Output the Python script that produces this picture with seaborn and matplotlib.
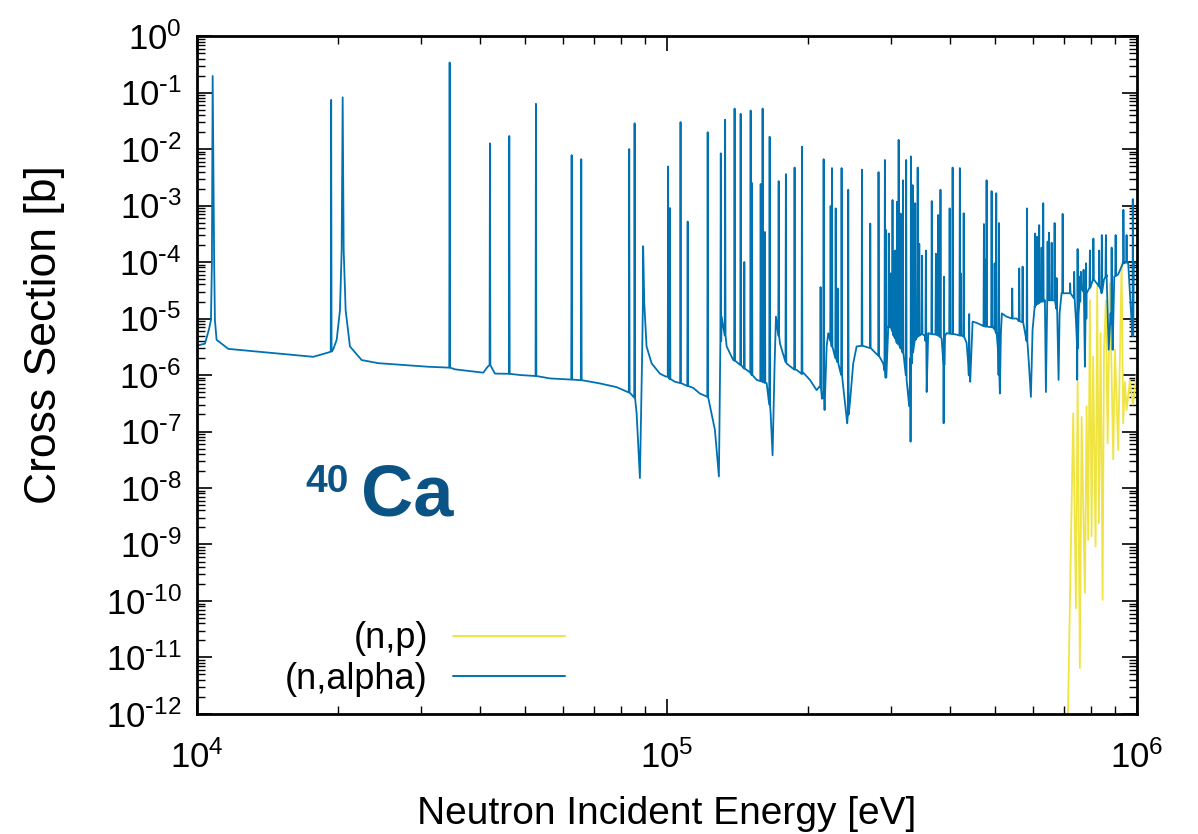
import matplotlib
matplotlib.use("Agg")
import matplotlib.pyplot as plt
import matplotlib.ticker as mticker
import numpy as np
import pandas as pd
import seaborn as sns

# (n,alpha) smooth part: background, broad resonances with wings, interference dips
alpha_bg_e = [
    1.00e4, 1.04e4, 1.06e4, 1.071e4, 1.076e4, 1.080e4, 1.088e4, 1.092e4, 1.101e4, 1.166e4,
    1.768e4, 1.903e4, 1.948e4, 1.983e4, 2.015e4, 2.032e4, 2.042e4, 2.052e4, 2.072e4, 2.116e4,
    2.241e4, 2.43e4, 3.105e4, 3.371e4, 3.54e4, 4.066e4, 4.155e4, 4.305e4, 4.867e4, 5.637e4,
    7.2e4, 7.816e4, 8.21e4, 8.45e4, 8.62e4, 8.76e4, 8.85e4, 8.89e4, 8.90e4, 8.95e4,
    9.05e4, 9.28e4, 9.66e4, 9.94e4, 1.04e5, 1.138e5, 1.175e5, 1.205e5, 1.235e5, 1.265e5,
    1.29e5, 1.307e5, 1.34e5, 1.384e5, 1.419e5, 1.478e5, 1.552e5, 1.63e5, 1.646e5, 1.662e5,
    1.678e5, 1.695e5, 1.706e5, 1.74e5, 1.797e5, 1.888e5, 1.95e5, 2.015e5, 2.082e5, 2.11e5,
    2.137e5, 2.165e5, 2.187e5, 2.204e5, 2.241e5, 2.278e5, 2.333e5, 2.372e5, 2.419e5, 2.451e5,
    2.491e5, 2.533e5, 2.596e5, 2.704e5, 2.816e5, 2.886e5, 2.92e5, 2.958e5, 2.983e5, 3.082e5,
    3.158e5, 3.236e5, 3.277e5, 3.299e5, 3.32e5, 3.371e5, 3.484e5, 3.54e5, 3.57e5, 3.597e5,
    3.748e5, 3.841e5, 3.879e5, 3.904e5, 3.936e5, 4.133e5, 4.269e5, 4.341e5, 4.376e5, 4.419e5,
    4.449e5, 4.471e5, 4.559e5, 4.71e5, 4.947e5, 5.03e5, 5.07e5, 5.11e5, 5.136e5, 5.161e5,
    5.281e5, 5.546e5, 5.73e5, 5.826e5, 5.891e5, 5.949e5, 5.998e5, 6.067e5, 6.217e5, 6.372e5,
    6.403e5, 6.443e5, 6.691e5, 6.768e5, 6.813e5, 6.847e5, 6.914e5, 7.2e5, 7.345e5, 7.417e5,
    7.464e5, 7.515e5, 7.59e5, 7.713e5, 7.751e5, 7.815e5, 8.07e5, 8.27e5, 8.41e5, 8.51e5,
    8.62e5, 8.71e5, 8.79e5, 8.88e5, 8.95e5, 9.12e5, 9.35e5, 9.58e5, 9.79e5, 9.85e5,
    1.015e6,
]
alpha_bg_xs = [
    3.3e-6, 3.6e-6, 6.3e-6, 9.4e-6, 9.6e-5, 1.96e-1, 9.6e-5, 9.4e-6, 4.2e-6, 2.9e-6,
    2.1e-6, 2.5e-6, 2.8e-6, 4.2e-6, 1.4e-5, 1.63e-4, 8.2e-2, 1.63e-4, 1.4e-5, 3.2e-6,
    1.84e-6, 1.62e-6, 1.4e-6, 1.36e-6, 1.26e-6, 1.1e-6, 1.4e-6, 1.06e-6, 1.0e-6, 8.7e-7,
    7.1e-7, 6.1e-7, 5.1e-7, 4.3e-7, 2.1e-7, 1.5e-8, 1.6e-6, 1.85e-5, 1.9e-4, 1.85e-5,
    3.2e-6, 1.6e-6, 1.06e-6, 9.4e-7, 7.6e-7, 5.9e-7, 4.7e-7, 4.3e-7, 2.8e-7, 1.07e-7,
    1.6e-8, 1.08e-5, 3.2e-6, 1.84e-6, 1.6e-6, 1.23e-6, 8.2e-7, 7.2e-7, 3.6e-7, 2.1e-7,
    3.8e-8, 1.6e-6, 1.08e-5, 3.6e-6, 1.6e-6, 1.23e-6, 1.1e-6, 8.2e-7, 5.4e-7, 6.2e-7,
    3.8e-7, 2.4e-7, 3.2e-6, 5.5e-6, 3.2e-6, 2.1e-6, 1.23e-6, 6.2e-7, 1.4e-7, 3.2e-7,
    1.6e-6, 3.2e-6, 3.3e-6, 3.0e-6, 2.2e-6, 1.6e-6, 9.3e-7, 7.2e-6, 7.0e-6, 3.7e-6,
    2.8e-6, 8.2e-7, 2.8e-7, 6.6e-8, 1.6e-6, 4.2e-6, 5.5e-6, 4.9e-6, 5.0e-7, 5.5e-6,
    5.2e-6, 4.4e-6, 1.4e-7, 4.9e-6, 5.5e-6, 5.2e-6, 4.9e-6, 3.7e-6, 1.6e-6, 7.6e-7,
    3.2e-6, 8.8e-6, 8.4e-6, 7.4e-6, 6.9e-6, 5.5e-6, 2.4e-6, 4.7e-7, 5.5e-6, 1.23e-5,
    1.08e-5, 1.0e-5, 8.4e-6, 4.9e-6, 1.6e-6, 4.1e-7, 6.3e-6, 1.6e-5, 1.96e-5, 2.1e-5,
    5.0e-7, 2.1e-5, 2.1e-5, 1.23e-5, 8.2e-7, 1.23e-5, 2.8e-5, 2.8e-5, 2.4e-5, 9.4e-6,
    8.2e-7, 1.23e-5, 3.6e-5, 2.8e-5, 1.4e-6, 2.8e-5, 4.9e-5, 3.9e-5, 2.8e-5, 4.9e-5,
    5.9e-5, 2.8e-6, 1.23e-5, 2.8e-6, 5.5e-5, 6.0e-5, 9.5e-5, 1.0e-4, 4.9e-6, 9.5e-5,
    1.0e-4,
]

# (n,alpha) narrow resonances: energy, peak and the level the spike rises from
alpha_res_e = [
    1.93e4, 3.449e4, 4.202e4, 4.619e4, 5.264e4, 6.27e4, 6.572e4, 8.313e4, 8.535e4, 1.006e5,
    1.015e5, 1.069e5, 1.107e5, 1.221e5, 1.302e5, 1.33e5, 1.393e5, 1.435e5, 1.461e5, 1.507e5,
    1.517e5, 1.583e5, 1.598e5, 1.616e5, 1.654e5, 1.729e5, 1.791e5, 1.869e5, 1.938e5, 2.123e5,
    2.155e5, 2.23e5, 2.245e5, 2.286e5, 2.308e5, 2.353e5, 2.431e5, 2.6e5, 2.708e5, 2.82e5,
    2.909e5, 2.924e5, 2.965e5, 2.99e5, 3.02e5, 3.04e5, 3.06e5, 3.09e5, 3.112e5, 3.142e5,
    3.178e5, 3.229e5, 3.305e5, 3.333e5, 3.375e5, 3.416e5, 3.443e5, 3.49e5, 3.556e5, 3.66e5,
    3.735e5, 3.777e5, 3.82e5, 3.885e5, 3.995e5, 4.054e5, 4.2e5, 4.22e5, 4.28e5, 4.397e5,
    4.726e5, 4.764e5, 4.788e5, 4.907e5, 4.98e5, 5.02e5, 5.087e5, 5.429e5, 5.618e5, 5.712e5,
    5.835e5, 6.075e5, 6.137e5, 6.196e5, 6.27e5, 6.32e5, 6.457e5, 6.499e5, 6.585e5, 6.682e5,
    6.748e5, 6.95e5, 7.21e5, 7.355e5, 7.478e5, 7.562e5, 7.6e5, 7.7e5, 7.79e5, 7.943e5,
    8.08e5, 8.313e5, 8.42e5, 8.59e5, 8.836e5, 9.01e5, 9.36e5, 9.506e5, 9.8e5,
]
alpha_res_peak = [
    7.4e-2, 3.4e-1, 1.26e-2, 1.7e-2, 6.3e-2, 7.8e-3, 6.6e-3, 1.0e-2, 2.85e-2, 4.9e-3,
    9.0e-4, 3.0e-2, 5.2e-4, 1.98e-2, 8.4e-3, 3.3e-2, 5.2e-2, 4.2e-2, 1.0e-4, 4.8e-2,
    2.5e-3, 2.4e-3, 5.2e-2, 3.4e-4, 1.65e-2, 2.7e-3, 3.6e-3, 4.7e-3, 1.1e-2, 3.6e-5,
    6.6e-3, 9.8e-4, 4.6e-3, 8.9e-4, 3.4e-5, 4.6e-3, 1.9e-3, 4.3e-3, 4.8e-4, 3.9e-3,
    6.4e-3, 3.7e-4, 3.2e-4, 6.3e-5, 1.25e-3, 1.5e-4, 1.6e-4, 1.17e-3, 1.45e-2, 7.2e-4,
    2.8e-3, 6.4e-3, 7.4e-3, 2.3e-3, 1.1e-3, 4.7e-3, 2.1e-4, 1.3e-4, 1.6e-4, 1.2e-3,
    1.4e-4, 6.8e-4, 1.9e-3, 5.5e-5, 8.9e-4, 4.7e-3, 4.6e-3, 6.3e-5, 7.3e-4, 1.2e-5,
    4.7e-4, 1.1e-4, 2.8e-3, 1.8e-3, 9.5e-5, 1.65e-3, 4.9e-4, 3.4e-5, 7.7e-5, 8.3e-5,
    8.9e-4, 3.2e-4, 2.8e-4, 4.5e-4, 1.8e-4, 1.1e-3, 2.3e-4, 3.3e-4, 2.2e-4, 4.9e-4,
    5.2e-5, 7.1e-4, 4.2e-5, 6.7e-5, 1.7e-4, 5.5e-5, 6.7e-5, 7.3e-5, 9.5e-5, 1.6e-4,
    2.6e-4, 1.6e-4, 3.0e-4, 3.0e-4, 1.8e-4, 3.0e-4, 8.4e-4, 3.0e-4, 1.3e-3,
]
alpha_res_base = [
    2.6e-6, 1.35e-6, 1.5e-6, 1.05e-6, 9.6e-7, 8.3e-7, 8.1e-7, 4.9e-7, 4.0e-7, 9.3e-7,
    8.5e-7, 7.2e-7, 6.4e-7, 4.1e-7, 4.0e-6, 5.0e-6, 1.8e-6, 1.5e-6, 1.3e-6, 1.1e-6,
    1.0e-6, 7.8e-7, 7.6e-7, 7.3e-7, 3.0e-7, 5.0e-6, 1.7e-6, 1.25e-6, 1.05e-6, 6.0e-7,
    4.0e-7, 4.0e-6, 3.2e-6, 2.0e-6, 1.7e-6, 1.0e-6, 2.0e-7, 3.3e-6, 3.0e-6, 2.2e-6,
    1.2e-6, 9.0e-7, 7.0e-6, 7.0e-6, 6.0e-6, 5.0e-6, 4.5e-6, 3.7e-6, 3.5e-6, 3.0e-6,
    2.5e-6, 1.0e-6, 2.0e-6, 2.5e-6, 4.2e-6, 4.8e-6, 5.0e-6, 5.3e-6, 4.0e-6, 5.3e-6,
    5.2e-6, 5.0e-6, 4.7e-6, 1.5e-6, 5.4e-6, 5.3e-6, 5.0e-6, 5.0e-6, 4.8e-6, 1.0e-6,
    7.3e-6, 7.2e-6, 7.2e-6, 7.0e-6, 6.5e-6, 5.6e-6, 1.0e-6, 1.0e-5, 9.0e-6, 8.6e-6,
    4.0e-6, 1.7e-5, 1.8e-5, 1.9e-5, 2.0e-5, 2.0e-5, 2.1e-5, 2.1e-5, 2.1e-5, 2.1e-5,
    1.5e-5, 2.8e-5, 2.8e-5, 2.3e-5, 3.0e-6, 2.0e-5, 3.5e-5, 3.0e-5, 1.0e-5, 3.5e-5,
    4.9e-5, 3.7e-5, 3.0e-5, 5.5e-5, 8.0e-6, 5.7e-5, 9.5e-5, 9.8e-5, 5.0e-6,
]

# (n,p) threshold region
np_e = [
    7.13e5, 7.32e5, 7.417e5, 7.48e5, 7.562e5, 7.627e5, 7.687e5, 7.751e5, 7.816e5, 7.877e5,
    7.943e5, 8.009e5, 8.07e5, 8.168e5, 8.232e5, 8.3e5, 8.371e5, 8.453e5, 8.51e5, 8.59e5,
    8.664e5, 8.76e5, 8.905e5, 8.98e5, 9.125e5, 9.277e5, 9.35e5, 9.43e5, 9.506e5, 9.663e5,
    9.806e5, 9.986e5,
]
np_xs = [
    8e-13, 2.1e-7, 7.4e-11, 7.6e-7, 6.5e-12, 1.8e-7, 4.7e-9, 1.4e-10, 2.8e-7, 1.2e-9,
    2.1e-5, 1.4e-9, 2.1e-6, 9.2e-10, 3.7e-5, 2.4e-9, 5.5e-6, 1.05e-10, 2.8e-6, 2.1e-5,
    6.2e-8, 4.2e-5, 3.2e-8, 2.8e-6, 4.7e-8, 9.5e-5, 1.4e-7, 7.5e-7, 2.4e-7, 8e-7,
    3e-7, 1.07e-6,
]

BLUE = "#0072b2"
YELLOW = "#f0e442"
SPIKE_HALF_WIDTH = 0.002  # relative energy half-width of drawn narrow spikes

# spikes as thin triangles on top of the smooth part
spike_e, spike_xs = [], []
for e, peak, base in zip(alpha_res_e, alpha_res_peak, alpha_res_base):
    spike_e += [e * (1 - SPIKE_HALF_WIDTH), e, e * (1 + SPIKE_HALF_WIDTH)]
    spike_xs += [base, peak, base]

df_alpha = pd.DataFrame({"energy": alpha_bg_e + spike_e, "xs": alpha_bg_xs + spike_xs})
df_alpha["reaction"] = "(n,alpha)"
df_np = pd.DataFrame({"energy": np_e, "xs": np_xs, "reaction": "(n,p)"})
df = pd.concat([df_np, df_alpha], ignore_index=True)

sns.set_theme(style="ticks")
plt.rcParams["font.family"] = ["Liberation Sans", "DejaVu Sans"]
plt.rcParams["mathtext.default"] = "regular"


def decade_label(val, pos):
    # gnuplot-style label: plain hyphen in the exponent
    exp = int(round(np.log10(val)))
    if exp < 0:
        return r"$10^{\text{-}%d}$" % (-exp)
    return r"$10^{%d}$" % exp


fig = plt.figure(figsize=(11.98, 8.34), dpi=100)
ax = fig.add_axes([0.1644, 0.1439, 0.7846, 0.8129])

sns.lineplot(
    data=df, x="energy", y="xs", hue="reaction",
    hue_order=["(n,p)", "(n,alpha)"], palette=[YELLOW, BLUE],
    estimator=None, sort=True, linewidth=1.3, ax=ax,
)

ax.set_xscale("log")
ax.set_yscale("log")
ax.set_xlim(1e4, 1e6)
ax.set_ylim(1e-12, 1e0)

ax.xaxis.set_major_locator(mticker.LogLocator(base=10, numticks=20))
ax.xaxis.set_minor_locator(mticker.LogLocator(base=10, subs=np.arange(2, 10), numticks=20))
ax.yaxis.set_major_locator(mticker.LogLocator(base=10, numticks=20))
ax.yaxis.set_minor_locator(mticker.LogLocator(base=10, subs=np.arange(2, 10), numticks=20))
ax.xaxis.set_major_formatter(mticker.FuncFormatter(decade_label))
ax.yaxis.set_major_formatter(mticker.FuncFormatter(decade_label))
ax.xaxis.set_minor_formatter(mticker.NullFormatter())
ax.yaxis.set_minor_formatter(mticker.NullFormatter())

ax.tick_params(which="both", direction="in", top=True, right=True, colors="black")
ax.tick_params(which="major", length=11, width=1.2, labelsize=25)
ax.tick_params(which="minor", length=6, width=1.0)
ax.tick_params(axis="x", which="major", pad=19)
ax.tick_params(axis="y", which="major", pad=11)
for sp in ax.spines.values():
    sp.set_linewidth(2.0)
    sp.set_color("black")

ax.set_xlabel("Neutron Incident Energy [eV]", fontsize=28, labelpad=15, color="black")
ax.set_ylabel("Cross Section [b]", fontsize=32, color="black")
ax.yaxis.set_label_coords(-0.14, 0.56)
ax.grid(False)

ax.text(0.115, 0.327, "40", transform=ax.transAxes, fontsize=28, fontweight="bold",
        color="#0b5385", ha="left", va="baseline")
ax.text(0.175, 0.293, "Ca", transform=ax.transAxes, fontsize=52, fontweight="bold",
        color="#0b5385", ha="left", va="baseline")

handles, labels = ax.get_legend_handles_labels()
leg = ax.legend(
    handles, labels, loc="lower right", bbox_to_anchor=(0.407, 0.004),
    frameon=False, markerfirst=False, fontsize=26, handlelength=3.1,
    handletextpad=0.7, labelspacing=0.15, borderaxespad=0.0,
)
for line in leg.get_lines():
    line.set_linewidth(1.4)
for t in leg.get_texts():
    t.set_color("black")

fig.savefig("out.png", dpi=100)
plt.close(fig)
